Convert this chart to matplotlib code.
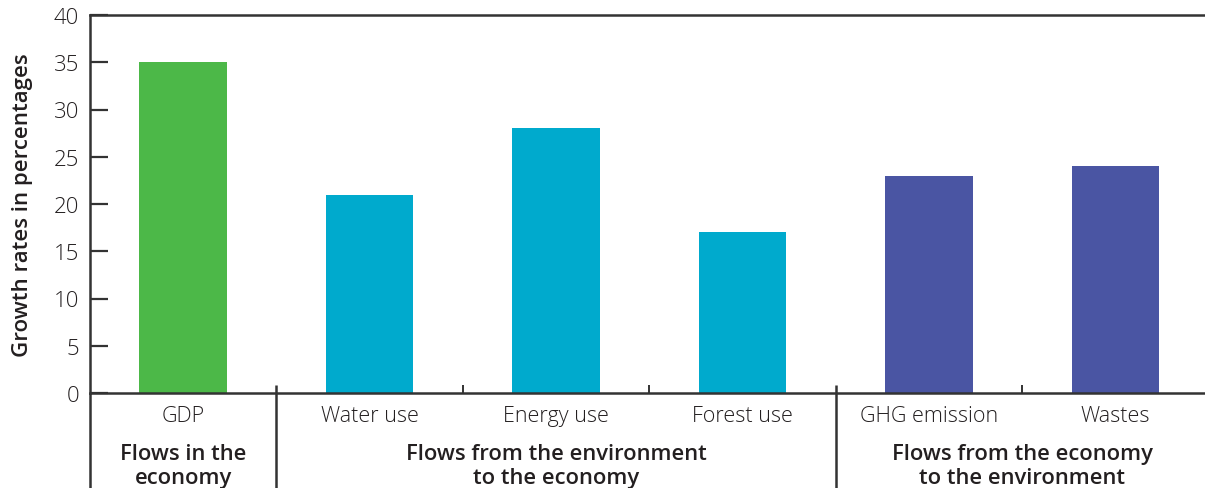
import numpy as np
import matplotlib.pyplot as plt
from matplotlib.transforms import blended_transform_factory

categories = ['GDP', 'Water use', 'Energy use', 'Forest use', 'GHG emission', 'Wastes']
values = [35, 21, 28, 17, 23, 24]
bar_colors = ['#4cb848', '#00aacd', '#00aacd', '#00aacd', '#4a55a3', '#4a55a3']
groups = ['Flows in the\neconomy', 'Flows from the environment\nto the economy',
          'Flows from the economy\nto the environment']
group_spans = [(0, 0), (1, 3), (4, 5)]

plt.rcParams['font.family'] = ['Open Sans', 'DejaVu Sans']
txt = '#231f20'
line = '#333333'

fig = plt.figure(figsize=(12.05, 4.89), dpi=100)
ax = fig.add_axes([90/1205, 95/489, 1115/1205, 378/489])

x = np.arange(len(categories))
ax.bar(x, values, width=0.47, color=bar_colors, zorder=2)

ax.set_xlim(-0.5, 5.48)
ax.set_ylim(0, 40)
ax.set_yticks(range(0, 41, 5))
ax.tick_params(axis='y', direction='in', length=13, width=1.6, color=line,
               labelsize=16, labelcolor=txt, pad=8)
for t in ax.get_yticklabels():
    t.set_fontweight('light')

ax.set_xticks(x)
ax.set_xticklabels(categories, fontsize=15.5, color=txt, fontweight='light')
ax.tick_params(axis='x', length=0, pad=9)
ax.set_xticks([1.5, 2.5, 4.5], minor=True)
ax.tick_params(axis='x', which='minor', direction='in', length=6, width=1.4, color=line)

ax.spines['right'].set_visible(False)
for s in ['left', 'top', 'bottom']:
    ax.spines[s].set_color(line)
    ax.spines[s].set_linewidth(1.8)

ax.set_ylabel('Growth rates in percentages', fontsize=16, fontweight='semibold',
              color=txt, labelpad=15)

tr = blended_transform_factory(ax.transData, ax.transAxes)
for b in [-0.5, 0.5, 3.5]:
    ax.plot([b, b], [0.02 if b > 0 else 0, -0.3], transform=tr, color=line,
            lw=1.8, clip_on=False, solid_capstyle='butt')

for g, (a, b) in zip(groups, group_spans):
    ax.text((a + b) / 2, -0.133, g, transform=tr, ha='center', va='top',
            fontsize=15.8, fontweight='semibold', color=txt, linespacing=1.2)

fig.savefig('out.png', dpi=100)
